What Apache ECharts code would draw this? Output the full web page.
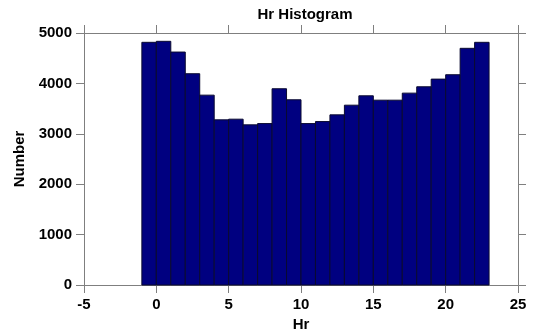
<!DOCTYPE html>
<html>
<head>
<meta charset="utf-8">
<script src="https://cdn.jsdelivr.net/npm/echarts@6/dist/echarts.min.js"></script>
<style>html,body{margin:0;padding:0;background:#fff}#c{width:535px;height:330px}</style>
</head>
<body>
<div id="c"></div>
<script>
const title = 'Hr Histogram';
const xName = 'Hr';
const yName = 'Number';
const hours = [0,1,2,3,4,5,6,7,8,9,10,11,12,13,14,15,16,17,18,19,20,21,22,23];
const counts = [4815,4835,4622,4192,3767,3277,3290,3178,3203,3894,3675,3203,3243,3376,3568,3754,3667,3667,3807,3933,4085,4172,4696,4815];
const xTicks = [-5,0,5,10,15,20,25];
const yTicks = [0,1000,2000,3000,4000,5000];

const font = 'Liberation Sans, Arial, sans-serif';
const axisGray = '#7f7f7f';
const chart = echarts.init(document.getElementById('c'), null, {renderer:'canvas'});
const data = hours.map((h,i)=>[h, counts[i]]);
const tickStyle = {show:true, inside:false, length:8, lineStyle:{color:axisGray, width:1}};
const lineStyle = {show:true, onZero:false, lineStyle:{color:axisGray, width:1}};
const xBase = {type:'value', min:xTicks[0], max:xTicks[xTicks.length-1], interval:5, splitLine:{show:false}, axisLine:lineStyle, axisTick:tickStyle};
const yBase = {type:'value', min:yTicks[0], max:yTicks[yTicks.length-1], interval:1000, splitLine:{show:false}, axisLine:lineStyle, axisTick:tickStyle};
const plain = v => String(v);
chart.setOption({
  animation:false,
  backgroundColor:'#ffffff',
  title:{text:title, left:300, textAlign:'center', top:2, textStyle:{fontFamily:font, fontWeight:'bold', fontSize:15, color:'#000'}},
  grid:{left:84, right:17, top:33, bottom:45, containLabel:false, outerBoundsMode:'none'},
  xAxis:[
    Object.assign({}, xBase, {position:'bottom', name:xName, nameLocation:'middle', nameGap:25,
      nameTextStyle:{fontFamily:font, fontWeight:'bold', fontSize:15, color:'#000'},
      axisLabel:{show:true, margin:12, formatter:plain, fontFamily:font, fontWeight:'bold', fontSize:15, color:'#000'}}),
    Object.assign({}, xBase, {position:'top', axisLabel:{show:false}})
  ],
  yAxis:[
    Object.assign({}, yBase, {position:'left', name:yName, nameLocation:'middle', nameGap:54, nameRotate:90,
      nameTextStyle:{fontFamily:font, fontWeight:'bold', fontSize:15, color:'#000'},
      axisLabel:{show:true, margin:12, formatter:plain, fontFamily:font, fontWeight:'bold', fontSize:15, color:'#000'}}),
    Object.assign({}, yBase, {position:'right', axisLabel:{show:false}})
  ],
  series:[{
    type:'custom',
    xAxisIndex:0, yAxisIndex:0,
    data:data,
    renderItem:function(params, api){
      const h = api.value(0), v = api.value(1);
      const p0 = api.coord([h-1, v]);
      const p1 = api.coord([h, 0]);
      return {type:'rect', shape:{x:p0[0], y:p0[1], width:p1[0]-p0[0], height:p1[1]-p0[1]},
        style:{fill:'#000080', stroke:'#0a0a30', lineWidth:1}};
    }
  }]
});
</script>
</body>
</html>
